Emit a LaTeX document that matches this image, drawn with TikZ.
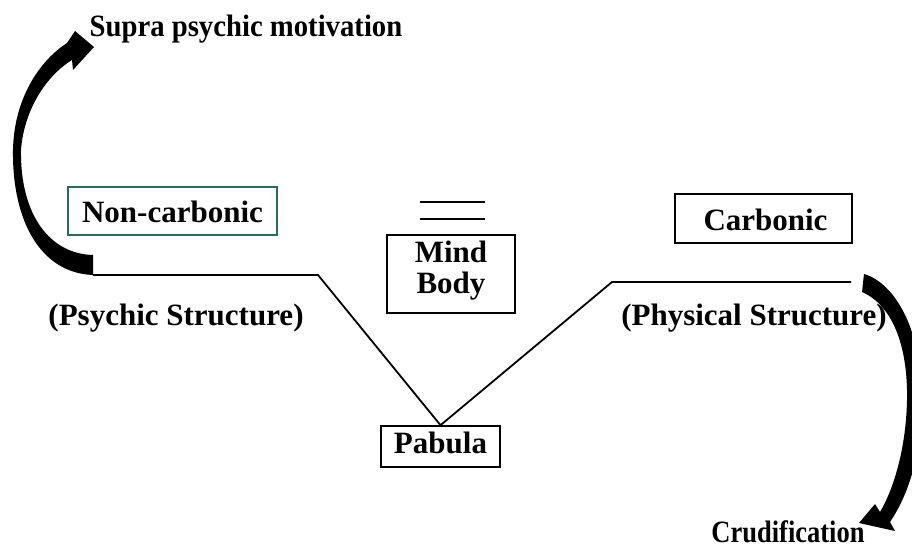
\documentclass[tikz,border=0pt]{standalone}
\usepackage{fontspec}
\setmainfont{Liberation Serif}
\definecolor{tealbox}{RGB}{38,112,88}
\begin{document}
\begin{tikzpicture}[x=1pt,y=-1pt,
  lbl/.style={font=\bfseries\fontsize{31}{36}\selectfont, inner sep=0pt, anchor=base},
  boxed/.style={draw, line width=1.6pt, inner sep=0pt},
  conn/.style={line width=1.8pt},
  bigarrow/.style={fill=black, draw=none}]
\useasboundingbox (0,0) rectangle (912,549);
\fill[white] (0,0) rectangle (912,549);
\clip (0,0) rectangle (912,549);

% boxes
\node[boxed, draw=tealbox, minimum width=209pt, minimum height=48pt] (ncbox) at (172.5,211) {};
\node[boxed, minimum width=177pt, minimum height=49pt] (cbox) at (763.5,218.5) {};
\node[boxed, minimum width=128pt, minimum height=78pt] (mbbox) at (451,274) {};
\node[boxed, minimum width=119pt, minimum height=41pt] (pab) at (440.5,446.5) {};

% texts
\node[lbl] (supra) at (246,36) {\scalebox{0.926}[1]{Supra psychic motivation}};
\node[lbl] (nc) at (172.5,222) {Non-carbonic};
\node[lbl] (carb) at (765.5,230) {Carbonic};
\node[lbl] (mind) at (451,262) {Mind};
\node[lbl] (body) at (451,293) {Body};
\node[lbl] (pabt) at (440.5,453) {Pabula};
\node[lbl] (psy) at (176,325) {(Psychic Structure)};
\node[lbl] (phy) at (754,325) {(Physical Structure)};
\node[lbl] (crud) at (788,542) {\scalebox{0.855}[1]{Crudification}};

% equivalence sign
\coordinate (e1a) at (420,202); \coordinate (e1b) at (485,202);
\coordinate (e2a) at (420,219); \coordinate (e2b) at (485,219);
\draw[conn] (e1a) -- (e1b);
\draw[conn] (e2a) -- (e2b);

% main line
\coordinate (la) at (93,275);
\coordinate (lb) at (318,275);
\coordinate (rb) at (612,282);
\coordinate (ra) at (851,282);
\draw[conn, line join=miter] (la) -- (lb) -- (pab.north) -- (rb) -- (ra);

% left curved arrow
\fill[bigarrow] (93,275) .. controls (40,273) and (12,220) .. (13,150)
  .. controls (14,100) and (38,62) .. (67,43)
  -- (75,31) -- (94,47) -- (73,70) -- (72,60)
  .. controls (46,76) and (24,110) .. (21,150)
  .. controls (20,215) and (50,254) .. (93,255) -- cycle;

% right curved arrow
\fill[bigarrow] (864,274) .. controls (895,283) and (922,330) .. (922,400)
  .. controls (922,460) and (905,500) .. (890,522)
  -- (895,531) -- (859,523) -- (875,504) -- (880,512)
  .. controls (893,490) and (906,450) .. (907,400)
  .. controls (908,345) and (892,305) .. (862,292) -- cycle;
\end{tikzpicture}
\end{document}
